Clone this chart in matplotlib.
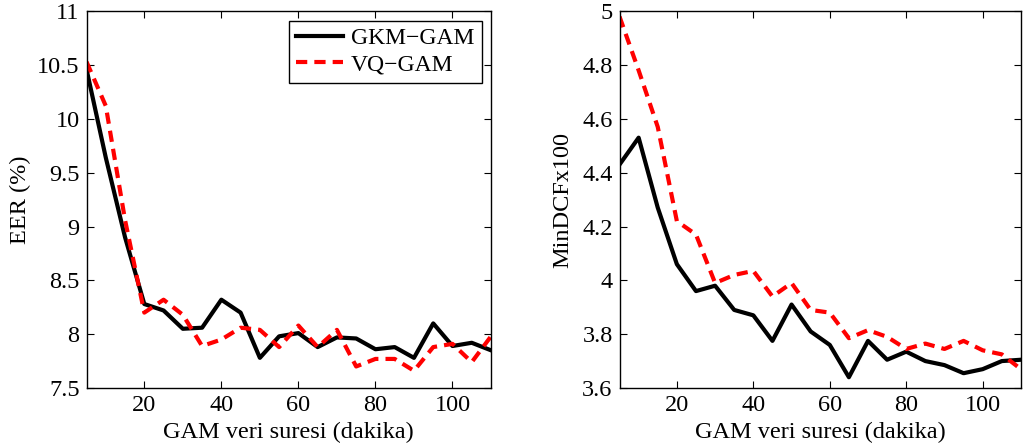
import matplotlib
matplotlib.use("Agg")
import matplotlib.pyplot as plt

plt.rcParams['font.family'] = ['Liberation Serif', 'DejaVu Serif']

# data (GAM veri suresi, dakika)
sure = [5, 10, 15, 20, 25, 30, 35, 40, 45, 50, 55, 60, 65, 70, 75, 80, 85, 90, 95, 100, 105, 110]

eer_gkm = [10.46, 9.64, 8.90, 8.28, 8.22, 8.05, 8.06, 8.32, 8.20, 7.78, 7.98, 8.01, 7.88, 7.97,
           7.96, 7.86, 7.88, 7.78, 8.10, 7.89, 7.92, 7.85]
eer_vq = [10.53, 10.12, 9.06, 8.20, 8.32, 8.18, 7.89, 7.95, 8.06, 8.04, 7.88, 8.08, 7.88, 8.04,
          7.70, 7.77, 7.77, 7.66, 7.88, 7.91, 7.74, 7.98]

dcf_gkm = [4.43, 4.53, 4.27, 4.06, 3.96, 3.98, 3.89, 3.87, 3.775, 3.91, 3.81, 3.76, 3.64, 3.775,
           3.705, 3.735, 3.70, 3.685, 3.655, 3.67, 3.70, 3.705]
dcf_vq = [4.98, 4.78, 4.57, 4.22, 4.17, 3.99, 4.02, 4.035, 3.94, 3.99, 3.89, 3.88, 3.785, 3.815,
          3.79, 3.745, 3.765, 3.745, 3.775, 3.74, 3.725, 3.67]

xticks = [20, 40, 60, 80, 100]
eer_ticks = [7.5, 8, 8.5, 9, 9.5, 10, 10.5, 11]
eer_labels = ['7.5', '8', '8.5', '9', '9.5', '10', '10.5', '11']
dcf_ticks = [3.6, 3.8, 4.0, 4.2, 4.4, 4.6, 4.8, 5.0]
dcf_labels = ['3.6', '3.8', '4', '4.2', '4.4', '4.6', '4.8', '5']

fig = plt.figure(figsize=(10.24, 4.47), dpi=100)
ax1 = fig.add_axes([0.0845, 0.132, 0.395, 0.843])
ax2 = fig.add_axes([0.605, 0.132, 0.392, 0.843])

def style(ax):
    ax.tick_params(direction='in', top=True, right=True, labelsize=17.5, length=5, width=0.8, pad=5)
    for s in ax.spines.values():
        s.set_linewidth(1.0)
    ax.set_xlim(5, 110)
    ax.set_xticks(xticks)
    ax.set_xlabel('GAM veri suresi (dakika)', fontsize=17.5, labelpad=4)

ax1.plot(sure, eer_gkm, color='black', lw=3, label='GKM−GAM')
ax1.plot(sure, eer_vq, color='red', lw=3, ls=(0, (2.7, 1.7)), label='VQ−GAM')
style(ax1)
ax1.set_ylim(7.5, 11)
ax1.set_yticks(eer_ticks)
ax1.set_yticklabels(eer_labels)
ax1.set_ylabel('EER (%)', fontsize=17.5, labelpad=4)
leg = ax1.legend(loc='upper right', fontsize=17, fancybox=False, edgecolor='black',
                 framealpha=1, borderaxespad=0.4, handlelength=2.0, borderpad=0.3,
                 labelspacing=0.2, handletextpad=0.35)
leg.get_frame().set_linewidth(1.0)

ax2.plot(sure, dcf_gkm, color='black', lw=3)
ax2.plot(sure, dcf_vq, color='red', lw=3, ls=(0, (2.7, 1.7)))
style(ax2)
ax2.set_ylim(3.6, 5)
ax2.set_yticks(dcf_ticks)
ax2.set_yticklabels(dcf_labels)
ax2.set_ylabel('MinDCFx100', fontsize=17.5, labelpad=6)

fig.savefig('out.png', dpi=100)
